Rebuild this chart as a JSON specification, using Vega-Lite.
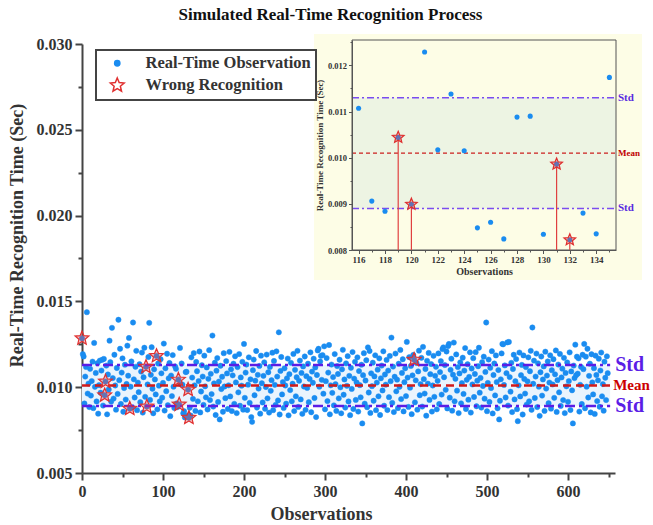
{
"$schema":"https://vega.github.io/schema/vega-lite/v6.json",
"width":533,"height":429,
"autosize":{"type":"none"},
"padding":{"left":82,"top":44,"right":38,"bottom":52},
"background":"white",
"config":{"font":"Liberation Serif","view":{"stroke":null},
 "legend":{"strokeWidth":2},
 "axis":{"grid":false,"domainColor":"#444","domainWidth":2,"tickColor":"#444","tickWidth":2,"labelFont":"Liberation Serif","labelFontWeight":"bold","labelColor":"#333","titleFont":"Liberation Serif","titleFontWeight":"bold","titleColor":"#333","labelFlush":false,"labelOverlap":false}},
"title":{"text":"Simulated Real-Time Recognition Process","font":"Liberation Serif","fontSize":17,"fontWeight":"bold","color":"#111","anchor":"middle","frame":"group","dx":-18,"offset":10},
"datasets":{
"obs":[
{"x":0,"y":0.01285},{"x":1,"y":0.01193},{"x":2,"y":0.01179},{"x":3,"y":0.00905},{"x":4,"y":0.01062},{"x":5,"y":0.01118},{"x":6,"y":0.01437},{"x":7,"y":0.00963},{"x":8,"y":0.01021},{"x":9,"y":0.00884},
{"x":10,"y":0.01107},{"x":11,"y":0.00951},{"x":12,"y":0.01036},{"x":13,"y":0.01149},{"x":14,"y":0.00878},{"x":15,"y":0.01258},{"x":16,"y":0.01002},{"x":17,"y":0.01083},{"x":18,"y":0.00917},{"x":19,"y":0.0114},
{"x":20,"y":0.00846},{"x":21,"y":0.01012},{"x":22,"y":0.01155},{"x":23,"y":0.00968},{"x":24,"y":0.01097},{"x":25,"y":0.0116},{"x":26,"y":0.00893},{"x":27,"y":0.01165},{"x":28,"y":0.00953},{"x":29,"y":0.01033},
{"x":30,"y":0.01126},{"x":31,"y":0.00842},{"x":32,"y":0.01074},{"x":33,"y":0.00987},{"x":34,"y":0.01271},{"x":35,"y":0.01146},{"x":36,"y":0.00916},{"x":37,"y":0.01346},{"x":38,"y":0.01053},{"x":39,"y":0.00934},
{"x":40,"y":0.01189},{"x":41,"y":0.0101},{"x":42,"y":0.00869},{"x":43,"y":0.01112},{"x":44,"y":0.00961},{"x":45,"y":0.01393},{"x":46,"y":0.01041},{"x":47,"y":0.01224},{"x":48,"y":0.00902},{"x":49,"y":0.01085},
{"x":50,"y":0.01168},{"x":51,"y":0.00857},{"x":52,"y":0.00995},{"x":53,"y":0.01131},{"x":54,"y":0.00928},{"x":55,"y":0.01019},{"x":56,"y":0.01242},{"x":57,"y":0.01067},{"x":58,"y":0.01287},{"x":59,"y":0.00875},
{"x":60,"y":0.01003},{"x":61,"y":0.0115},{"x":62,"y":0.00883},{"x":63,"y":0.01377},{"x":64,"y":0.01046},{"x":65,"y":0.0094},{"x":66,"y":0.01119},{"x":67,"y":0.01212},{"x":68,"y":0.00866},{"x":69,"y":0.01027},
{"x":70,"y":0.00971},{"x":71,"y":0.01134},{"x":72,"y":0.00913},{"x":73,"y":0.01091},{"x":74,"y":0.01202},{"x":75,"y":0.00852},{"x":76,"y":0.01058},{"x":77,"y":0.0123},{"x":78,"y":0.00944},{"x":79,"y":0.01119},
{"x":80,"y":0.00887},{"x":81,"y":0.01016},{"x":82,"y":0.01176},{"x":83,"y":0.01375},{"x":84,"y":0.00926},{"x":85,"y":0.01072},{"x":86,"y":0.01233},{"x":87,"y":0.00991},{"x":88,"y":0.00848},{"x":89,"y":0.01104},
{"x":90,"y":0.01045},{"x":91,"y":0.00958},{"x":92,"y":0.01182},{"x":93,"y":0.00871},{"x":94,"y":0.01138},{"x":95,"y":0.01009},{"x":96,"y":0.00917},{"x":97,"y":0.01163},{"x":98,"y":0.01081},{"x":99,"y":0.00939},
{"x":100,"y":0.01025},{"x":101,"y":0.01254},{"x":102,"y":0.00864},{"x":103,"y":0.0111},{"x":104,"y":0.00977},{"x":105,"y":0.01195},{"x":106,"y":0.00895},{"x":107,"y":0.01052},{"x":108,"y":0.01141},{"x":109,"y":0.00831},
{"x":110,"y":0.01068},{"x":111,"y":0.00948},{"x":112,"y":0.01187},{"x":113,"y":0.01003},{"x":114,"y":0.00879},{"x":115,"y":0.01121},{"x":116,"y":0.01107},{"x":117,"y":0.00906},{"x":118,"y":0.00884},{"x":119,"y":0.01044},
{"x":120,"y":0.00899},{"x":121,"y":0.01229},{"x":122,"y":0.01017},{"x":123,"y":0.01138},{"x":124,"y":0.01015},{"x":125,"y":0.00848},{"x":126,"y":0.0086},{"x":127,"y":0.00824},{"x":128,"y":0.01088},{"x":129,"y":0.0109},
{"x":130,"y":0.00834},{"x":131,"y":0.00986},{"x":132,"y":0.00822},{"x":133,"y":0.0088},{"x":134,"y":0.00835},{"x":135,"y":0.01174},{"x":136,"y":0.01056},{"x":137,"y":0.00932},{"x":138,"y":0.01199},{"x":139,"y":0.01011},
{"x":140,"y":0.00862},{"x":141,"y":0.01147},{"x":142,"y":0.01093},{"x":143,"y":0.00918},{"x":144,"y":0.01036},{"x":145,"y":0.01208},{"x":146,"y":0.00853},{"x":147,"y":0.00975},{"x":148,"y":0.01128},{"x":149,"y":0.01062},
{"x":150,"y":0.00897},{"x":151,"y":0.01184},{"x":152,"y":0.01005},{"x":153,"y":0.00941},{"x":154,"y":0.01115},{"x":155,"y":0.0087},{"x":156,"y":0.01049},{"x":157,"y":0.01216},{"x":158,"y":0.00925},{"x":159,"y":0.01078},
{"x":160,"y":0.0096},{"x":161,"y":0.01301},{"x":162,"y":0.00887},{"x":163,"y":0.01022},{"x":164,"y":0.01143},{"x":165,"y":0.00838},{"x":166,"y":0.01096},{"x":167,"y":0.0117},{"x":168,"y":0.00914},{"x":169,"y":0.01033},
{"x":170,"y":0.00812},{"x":171,"y":0.01125},{"x":172,"y":0.00989},{"x":173,"y":0.01061},{"x":174,"y":0.00857},{"x":175,"y":0.01198},{"x":176,"y":0.01004},{"x":177,"y":0.00936},{"x":178,"y":0.01152},{"x":179,"y":0.0108},
{"x":180,"y":0.00873},{"x":181,"y":0.01011},{"x":182,"y":0.01206},{"x":183,"y":0.00946},{"x":184,"y":0.01104},{"x":185,"y":0.00861},{"x":186,"y":0.01069},{"x":187,"y":0.01137},{"x":188,"y":0.00903},{"x":189,"y":0.0118},
{"x":190,"y":0.01028},{"x":191,"y":0.00849},{"x":192,"y":0.01117},{"x":193,"y":0.0097},{"x":194,"y":0.01193},{"x":195,"y":0.00892},{"x":196,"y":0.01057},{"x":197,"y":0.01009},{"x":198,"y":0.01148},{"x":199,"y":0.00869},
{"x":200,"y":0.01252},{"x":201,"y":0.00938},{"x":202,"y":0.01085},{"x":203,"y":0.01132},{"x":204,"y":0.00867},{"x":205,"y":0.01015},{"x":206,"y":0.01174},{"x":207,"y":0.00909},{"x":208,"y":0.01046},{"x":209,"y":0.00826},
{"x":210,"y":0.00798},{"x":211,"y":0.01099},{"x":212,"y":0.01161},{"x":213,"y":0.00953},{"x":214,"y":0.01038},{"x":215,"y":0.01211},{"x":216,"y":0.00881},{"x":217,"y":0.01072},{"x":218,"y":0.00992},{"x":219,"y":0.01124},
{"x":220,"y":0.00846},{"x":221,"y":0.01184},{"x":222,"y":0.01023},{"x":223,"y":0.00911},{"x":224,"y":0.01066},{"x":225,"y":0.01145},{"x":226,"y":0.00874},{"x":227,"y":0.01001},{"x":228,"y":0.0119},{"x":229,"y":0.00935},
{"x":230,"y":0.01087},{"x":231,"y":0.00852},{"x":232,"y":0.01118},{"x":233,"y":0.00979},{"x":234,"y":0.01041},{"x":235,"y":0.01201},{"x":236,"y":0.00866},{"x":237,"y":0.01153},{"x":238,"y":0.01014},{"x":239,"y":0.00897},
{"x":240,"y":0.01209},{"x":241,"y":0.01062},{"x":242,"y":0.00923},{"x":243,"y":0.0132},{"x":244,"y":0.00841},{"x":245,"y":0.01095},{"x":246,"y":0.01176},{"x":247,"y":0.00958},{"x":248,"y":0.0103},{"x":249,"y":0.00879},
{"x":250,"y":0.0111},{"x":251,"y":0.0101},{"x":252,"y":0.00904},{"x":253,"y":0.01052},{"x":254,"y":0.01167},{"x":255,"y":0.00836},{"x":256,"y":0.01076},{"x":257,"y":0.00983},{"x":258,"y":0.01142},{"x":259,"y":0.00918},
{"x":260,"y":0.0102},{"x":261,"y":0.01194},{"x":262,"y":0.00861},{"x":263,"y":0.01101},{"x":264,"y":0.00947},{"x":265,"y":0.01058},{"x":266,"y":0.01212},{"x":267,"y":0.00885},{"x":268,"y":0.01037},{"x":269,"y":0.01155},
{"x":270,"y":0.00929},{"x":271,"y":0.01083},{"x":272,"y":0.00845},{"x":273,"y":0.01121},{"x":274,"y":0.01004},{"x":275,"y":0.01179},{"x":276,"y":0.00868},{"x":277,"y":0.01064},{"x":278,"y":0.00996},{"x":279,"y":0.01137},
{"x":280,"y":0.00913},{"x":281,"y":0.01048},{"x":282,"y":0.01203},{"x":283,"y":0.00854},{"x":284,"y":0.01091},{"x":285,"y":0.01026},{"x":286,"y":0.01166},{"x":287,"y":0.00937},{"x":288,"y":0.01115},{"x":289,"y":0.00826},
{"x":290,"y":0.01071},{"x":291,"y":0.01214},{"x":292,"y":0.01224},{"x":293,"y":0.01003},{"x":294,"y":0.0115},{"x":295,"y":0.01183},{"x":296,"y":0.01043},{"x":297,"y":0.01187},{"x":298,"y":0.00962},{"x":299,"y":0.01238},
{"x":300,"y":0.00871},{"x":301,"y":0.01035},{"x":302,"y":0.0117},{"x":303,"y":0.00919},{"x":304,"y":0.01085},{"x":305,"y":0.01246},{"x":306,"y":0.00842},{"x":307,"y":0.01011},{"x":308,"y":0.01132},{"x":309,"y":0.00967},
{"x":310,"y":0.01059},{"x":311,"y":0.00894},{"x":312,"y":0.01193},{"x":313,"y":0.01018},{"x":314,"y":0.00862},{"x":315,"y":0.01123},{"x":316,"y":0.01077},{"x":317,"y":0.00935},{"x":318,"y":0.0116},{"x":319,"y":0.00999},
{"x":320,"y":0.00848},{"x":321,"y":0.01104},{"x":322,"y":0.01218},{"x":323,"y":0.00956},{"x":324,"y":0.01045},{"x":325,"y":0.00881},{"x":326,"y":0.01139},{"x":327,"y":0.01008},{"x":328,"y":0.01181},{"x":329,"y":0.00917},
{"x":330,"y":0.01066},{"x":331,"y":0.00837},{"x":332,"y":0.01113},{"x":333,"y":0.0099},{"x":334,"y":0.01205},{"x":335,"y":0.00873},{"x":336,"y":0.0105},{"x":337,"y":0.01148},{"x":338,"y":0.00926},{"x":339,"y":0.01028},
{"x":340,"y":0.01174},{"x":341,"y":0.00858},{"x":342,"y":0.01094},{"x":343,"y":0.01012},{"x":344,"y":0.00941},{"x":345,"y":0.01131},{"x":346,"y":0.00789},{"x":347,"y":0.0107},{"x":348,"y":0.01198},{"x":349,"y":0.00904},
{"x":350,"y":0.01039},{"x":351,"y":0.01157},{"x":352,"y":0.00883},{"x":353,"y":0.01232},{"x":354,"y":0.00969},{"x":355,"y":0.01211},{"x":356,"y":0.0085},{"x":357,"y":0.01081},{"x":358,"y":0.01006},{"x":359,"y":0.01143},
{"x":360,"y":0.00921},{"x":361,"y":0.01063},{"x":362,"y":0.01186},{"x":363,"y":0.00866},{"x":364,"y":0.01027},{"x":365,"y":0.01102},{"x":366,"y":0.00947},{"x":367,"y":0.01168},{"x":368,"y":0.00838},{"x":369,"y":0.01052},
{"x":370,"y":0.01126},{"x":371,"y":0.00981},{"x":372,"y":0.01209},{"x":373,"y":0.00892},{"x":374,"y":0.01074},{"x":375,"y":0.01015},{"x":376,"y":0.01159},{"x":377,"y":0.00867},{"x":378,"y":0.01097},{"x":379,"y":0.00942},
{"x":380,"y":0.01182},{"x":381,"y":0.01035},{"x":382,"y":0.01289},{"x":383,"y":0.00909},{"x":384,"y":0.0112},{"x":385,"y":0.00855},{"x":386,"y":0.01061},{"x":387,"y":0.01196},{"x":388,"y":0.00976},{"x":389,"y":0.01044},
{"x":390,"y":0.00878},{"x":391,"y":0.01137},{"x":392,"y":0.01002},{"x":393,"y":0.01217},{"x":394,"y":0.00931},{"x":395,"y":0.01083},{"x":396,"y":0.01163},{"x":397,"y":0.00859},{"x":398,"y":0.01029},{"x":399,"y":0.0111},
{"x":400,"y":0.00948},{"x":401,"y":0.01264},{"x":402,"y":0.01056},{"x":403,"y":0.00885},{"x":404,"y":0.01175},{"x":405,"y":0.00997},{"x":406,"y":0.01124},{"x":407,"y":0.00843},{"x":408,"y":0.01069},{"x":409,"y":0.01188},
{"x":410,"y":0.0116},{"x":411,"y":0.00912},{"x":412,"y":0.0104},{"x":413,"y":0.01141},{"x":414,"y":0.00869},{"x":415,"y":0.01092},{"x":416,"y":0.01213},{"x":417,"y":0.00953},{"x":418,"y":0.01018},{"x":419,"y":0.01171},
{"x":420,"y":0.00887},{"x":421,"y":0.01235},{"x":422,"y":0.01047},{"x":423,"y":0.00963},{"x":424,"y":0.01106},{"x":425,"y":0.00834},{"x":426,"y":0.01154},{"x":427,"y":0.01021},{"x":428,"y":0.012},{"x":429,"y":0.00926},
{"x":430,"y":0.01076},{"x":431,"y":0.01135},{"x":432,"y":0.00858},{"x":433,"y":0.0101},{"x":434,"y":0.01183},{"x":435,"y":0.00944},{"x":436,"y":0.01066},{"x":437,"y":0.01119},{"x":438,"y":0.00871},{"x":439,"y":0.01037},
{"x":440,"y":0.01197},{"x":441,"y":0.00902},{"x":442,"y":0.01088},{"x":443,"y":0.01152},{"x":444,"y":0.00957},{"x":445,"y":0.01222},{"x":446,"y":0.01232},{"x":447,"y":0.01058},{"x":448,"y":0.01129},{"x":449,"y":0.00985},
{"x":450,"y":0.01208},{"x":451,"y":0.00876},{"x":452,"y":0.0124},{"x":453,"y":0.01252},{"x":454,"y":0.00939},{"x":455,"y":0.01101},{"x":456,"y":0.01166},{"x":457,"y":0.00863},{"x":458,"y":0.01073},{"x":459,"y":0.0126},
{"x":460,"y":0.00918},{"x":461,"y":0.01049},{"x":462,"y":0.01191},{"x":463,"y":0.0098},{"x":464,"y":0.01117},{"x":465,"y":0.00849},{"x":466,"y":0.0108},{"x":467,"y":0.01145},{"x":468,"y":0.00906},{"x":469,"y":0.01024},
{"x":470,"y":0.01172},{"x":471,"y":0.00961},{"x":472,"y":0.01097},{"x":473,"y":0.01228},{"x":474,"y":0.00873},{"x":475,"y":0.01043},{"x":476,"y":0.01134},{"x":477,"y":0.00927},{"x":478,"y":0.0106},{"x":479,"y":0.01203},
{"x":480,"y":0.00852},{"x":481,"y":0.01109},{"x":482,"y":0.01016},{"x":483,"y":0.01169},{"x":484,"y":0.00943},{"x":485,"y":0.01077},{"x":486,"y":0.01204},{"x":487,"y":0.00889},{"x":488,"y":0.01038},{"x":489,"y":0.01122},
{"x":490,"y":0.0123},{"x":491,"y":0.00968},{"x":492,"y":0.01054},{"x":493,"y":0.00881},{"x":494,"y":0.01146},{"x":495,"y":0.01007},{"x":496,"y":0.01178},{"x":497,"y":0.00933},{"x":498,"y":0.01089},{"x":499,"y":0.01377},
{"x":500,"y":0.0086},{"x":501,"y":0.01025},{"x":502,"y":0.01161},{"x":503,"y":0.00914},{"x":504,"y":0.01113},{"x":505,"y":0.00995},{"x":506,"y":0.0121},{"x":507,"y":0.00847},{"x":508,"y":0.01071},{"x":509,"y":0.01138},
{"x":510,"y":0.00952},{"x":511,"y":0.01185},{"x":512,"y":0.0103},{"x":513,"y":0.00877},{"x":514,"y":0.011},{"x":515,"y":0.00812},{"x":516,"y":0.00921},{"x":517,"y":0.01046},{"x":518,"y":0.01197},{"x":519,"y":0.01252},
{"x":520,"y":0.0125},{"x":521,"y":0.01013},{"x":522,"y":0.01127},{"x":523,"y":0.0094},{"x":524,"y":0.01082},{"x":525,"y":0.01261},{"x":526,"y":0.00893},{"x":527,"y":0.01264},{"x":528,"y":0.01059},{"x":529,"y":0.00974},
{"x":530,"y":0.01142},{"x":531,"y":0.00855},{"x":532,"y":0.01106},{"x":533,"y":0.01189},{"x":534,"y":0.00929},{"x":535,"y":0.01035},{"x":536,"y":0.01164},{"x":537,"y":0.00872},{"x":538,"y":0.00802},{"x":539,"y":0.01011},
{"x":540,"y":0.01202},{"x":541,"y":0.00946},{"x":542,"y":0.0107},{"x":543,"y":0.0113},{"x":544,"y":0.00841},{"x":545,"y":0.01185},{"x":546,"y":0.01048},{"x":547,"y":0.00963},{"x":548,"y":0.01117},{"x":549,"y":0.00899},
{"x":550,"y":0.01034},{"x":551,"y":0.01174},{"x":552,"y":0.00918},{"x":553,"y":0.01093},{"x":554,"y":0.01212},{"x":555,"y":0.00868},{"x":556,"y":0.01348},{"x":557,"y":0.0102},{"x":558,"y":0.01155},{"x":559,"y":0.00937},
{"x":560,"y":0.01062},{"x":561,"y":0.01196},{"x":562,"y":0.00884},{"x":563,"y":0.01139},{"x":564,"y":0.01003},{"x":565,"y":0.00833},{"x":566,"y":0.01087},{"x":567,"y":0.01179},{"x":568,"y":0.00951},{"x":569,"y":0.01045},
{"x":570,"y":0.01121},{"x":571,"y":0.00862},{"x":572,"y":0.01207},{"x":573,"y":0.00992},{"x":574,"y":0.01068},{"x":575,"y":0.0115},{"x":576,"y":0.00907},{"x":577,"y":0.01027},{"x":578,"y":0.01186},{"x":579,"y":0.00875},
{"x":580,"y":0.01099},{"x":581,"y":0.01016},{"x":582,"y":0.01163},{"x":583,"y":0.00938},{"x":584,"y":0.01075},{"x":585,"y":0.01214},{"x":586,"y":0.00856},{"x":587,"y":0.01041},{"x":588,"y":0.01132},{"x":589,"y":0.0097},
{"x":590,"y":0.01194},{"x":591,"y":0.00891},{"x":592,"y":0.01057},{"x":593,"y":0.01108},{"x":594,"y":0.00925},{"x":595,"y":0.01171},{"x":596,"y":0.00849},{"x":597,"y":0.01083},{"x":598,"y":0.01005},{"x":599,"y":0.01144},
{"x":600,"y":0.00915},{"x":601,"y":0.01036},{"x":602,"y":0.01203},{"x":603,"y":0.00867},{"x":604,"y":0.01092},{"x":605,"y":0.00982},{"x":606,"y":0.00789},{"x":607,"y":0.01126},{"x":608,"y":0.01053},{"x":609,"y":0.01248},
{"x":610,"y":0.0107},{"x":611,"y":0.01178},{"x":612,"y":0.01079},{"x":613,"y":0.01168},{"x":614,"y":0.00858},{"x":615,"y":0.01014},{"x":616,"y":0.01119},{"x":617,"y":0.00902},{"x":618,"y":0.01189},{"x":619,"y":0.01105},
{"x":620,"y":0.01252},{"x":621,"y":0.00877},{"x":622,"y":0.01178},{"x":623,"y":0.01003},{"x":624,"y":0.01224},{"x":625,"y":0.0094},{"x":626,"y":0.01066},{"x":627,"y":0.01137},{"x":628,"y":0.00853},{"x":629,"y":0.01192},
{"x":630,"y":0.01028},{"x":631,"y":0.00958},{"x":632,"y":0.01111},{"x":633,"y":0.00844},{"x":634,"y":0.01184},{"x":635,"y":0.01071},{"x":636,"y":0.00919},{"x":637,"y":0.0104},{"x":638,"y":0.01166},{"x":639,"y":0.00886},
{"x":640,"y":0.01097},{"x":641,"y":0.01202},{"x":642,"y":0.00947},{"x":643,"y":0.01018},{"x":644,"y":0.00863},{"x":645,"y":0.01149},{"x":646,"y":0.01055},{"x":647,"y":0.00925},{"x":648,"y":0.0118},{"x":649,"y":0.01082}
],
"wrong":[
{"x":0,"y":0.01285},{"x":28,"y":0.00953},{"x":29,"y":0.01033},{"x":59,"y":0.00875},{"x":79,"y":0.01119},{"x":80,"y":0.00887},{"x":92,"y":0.01182},{"x":119,"y":0.01044},{"x":120,"y":0.00899},{"x":131,"y":0.00986},{"x":132,"y":0.00822},{"x":410,"y":0.0116}
]
},
"layer":[
{
"encoding":{
 "x":{"field":"x","type":"quantitative","scale":{"domain":[0,658],"nice":false,"zero":false},
  "axis":{"orient":"bottom","values":[0,50,100,150,200,250,300,350,400,450,500,550,600,650],"labelExpr":"datum.value % 100 === 0 ? datum.label : ''","tickSize":{"condition":{"test":"datum.value % 100 !== 0","value":4},"value":7},"labelFontSize":16,"labelPadding":3,"title":"Observations","titleFontSize":18,"titleX":239,"titleY":41,"titleBaseline":"middle","titleAlign":"center"}},
 "y":{"field":"y","type":"quantitative","scale":{"domain":[0.005,0.03],"nice":false,"zero":false},
  "axis":{"orient":"left","values":[0.005,0.0075,0.01,0.0125,0.015,0.0175,0.02,0.0225,0.025,0.0275,0.03],"labelExpr":"round(datum.value*10000) % 50 === 0 ? format(datum.value,'.3f') : ''","tickSize":{"condition":{"test":"round(datum.value*10000) % 50 !== 0","value":4},"value":7},"labelFontSize":16,"labelPadding":3,"title":"Real-Time Recognition Time (Sec)","titleFontSize":18,"titleX":-65,"titleY":191,"titleAngle":-90,"titleBaseline":"middle","titleAlign":"center"}}
},
"layer":[
 {"data":{"values":[{"x":0,"x2":652,"y":0.0089,"y2":0.0113}]},"mark":{"type":"rect","color":"#eaf4fd"},"encoding":{"x2":{"field":"x2"},"y2":{"field":"y2"}}},
 {"data":{"name":"obs"},"mark":{"type":"point","filled":true,"opacity":1,"strokeWidth":0.5},
  "encoding":{
   "shape":{"datum":"Real-Time Observation","scale":{"domain":["Real-Time Observation","Wrong Recognition"],"range":["circle","M0,-1L0.265,-0.364L0.951,-0.309L0.428,0.139L0.588,0.809L0,0.45L-0.588,0.809L-0.428,0.139L-0.951,-0.309L-0.265,-0.364Z"]},
    "legend":{"orient":"none","legendX":14,"legendY":6,"title":null,"labelFont":"Liberation Serif","labelFontSize":16.5,"labelFontWeight":"bold","labelColor":"#333","labelLimit":400,"padding":5,"rowPadding":3,"symbolOffset":8,"labelOffset":20,"strokeColor":"#444","fillColor":"#ffffff","symbolStrokeWidth":1.5,"symbolOpacity":1}},
   "fill":{"datum":"Real-Time Observation","scale":{"domain":["Real-Time Observation","Wrong Recognition"],"range":["#1a8cf0","#ffffff"]},
    "legend":{"orient":"none","legendX":14,"legendY":6,"title":null,"labelFont":"Liberation Serif","labelFontSize":16.5,"labelFontWeight":"bold","labelColor":"#333","labelLimit":400,"padding":5,"rowPadding":3,"symbolOffset":8,"labelOffset":20,"strokeColor":"#444","fillColor":"#ffffff","symbolStrokeWidth":1.5,"symbolOpacity":1}},
   "stroke":{"datum":"Real-Time Observation","scale":{"domain":["Real-Time Observation","Wrong Recognition"],"range":["#1a8cf0","#e03030"]},
    "legend":{"orient":"none","legendX":14,"legendY":6,"title":null,"labelFont":"Liberation Serif","labelFontSize":16.5,"labelFontWeight":"bold","labelColor":"#333","labelLimit":400,"padding":5,"rowPadding":3,"symbolOffset":8,"labelOffset":20,"strokeColor":"#444","fillColor":"#ffffff","symbolStrokeWidth":1.5,"symbolOpacity":1}},
   "size":{"datum":"Real-Time Observation","scale":{"domain":["Real-Time Observation","Wrong Recognition"],"range":[28,210]},
    "legend":{"orient":"none","legendX":14,"legendY":6,"title":null,"labelFont":"Liberation Serif","labelFontSize":16.5,"labelFontWeight":"bold","labelColor":"#333","labelLimit":400,"padding":5,"rowPadding":3,"symbolOffset":8,"labelOffset":20,"strokeColor":"#444","fillColor":"#ffffff","symbolStrokeWidth":1.5,"symbolOpacity":1}}
  }},
 {"data":{"values":[{"x":0,"x2":652,"y":0.0113},{"x":0,"x2":652,"y":0.0089}]},"mark":{"type":"rule","color":"#5b1de6","strokeWidth":2.5,"strokeDash":[10,4,3,4]},"encoding":{"x2":{"field":"x2"}}},
 {"data":{"values":[{"x":0,"x2":652,"y":0.0101}]},"mark":{"type":"rule","color":"#d11a1a","strokeWidth":2.5,"strokeDash":[8,5]},"encoding":{"x2":{"field":"x2"}}},
 {"data":{"name":"wrong"},"mark":{"type":"point","filled":false,"fill":"#ee4444","fillOpacity":0.35,"strokeWidth":1.2,"opacity":1},
  "encoding":{"shape":{"datum":"Wrong Recognition"},"stroke":{"datum":"Wrong Recognition"},"size":{"datum":"Wrong Recognition"}}},
 {"data":{"values":[{"x":652,"y":0.0113,"label":"Std"},{"x":652,"y":0.0089,"label":"Std"}]},"mark":{"type":"text","align":"left","baseline":"middle","dx":5,"font":"Liberation Serif","fontSize":20,"fontWeight":"bold","color":"#5b1de6"},"encoding":{"text":{"field":"label"}}},
 {"data":{"values":[{"x":652,"y":0.0101,"label":"Mean"}]},"mark":{"type":"text","align":"left","baseline":"middle","dx":3,"font":"Liberation Serif","fontSize":15,"fontWeight":"bold","color":"#cc0000"},"encoding":{"text":{"field":"label"}}}
]
},
{
"encoding":{
 "x":{"field":"x","type":"quantitative","scale":{"domain":[115.5,135.5],"range":[270,534],"nice":false,"zero":false},
  "axis":{"orient":"bottom","offset":-223,"zindex":1,"values":[116,117,118,119,120,121,122,123,124,125,126,127,128,129,130,131,132,133,134,135],"labelExpr":"datum.value % 2 === 0 ? datum.label : ''","tickSize":{"condition":{"test":"datum.value % 2 !== 0","value":2},"value":3.5},"domainColor":"#555","domainWidth":1,"tickColor":"#555","tickWidth":1,"labelFontSize":9,"labelPadding":2,"title":"Observations","titleFontSize":10,"titlePadding":2}},
 "y":{"field":"y","type":"quantitative","scale":{"domain":[0.008,0.01255],"range":[206,-4],"nice":false,"zero":false},
  "axis":{"orient":"left","offset":-270,"zindex":1,"values":[0.008,0.0085,0.009,0.0095,0.01,0.0105,0.011,0.0115,0.012,0.0125],"labelExpr":"round(datum.value*10000) % 10 === 0 ? format(datum.value,'.3f') : ''","tickSize":{"condition":{"test":"round(datum.value*10000) % 10 !== 0","value":2},"value":3.5},"domainColor":"#555","domainWidth":1,"tickColor":"#555","tickWidth":1,"labelFontSize":8.5,"labelPadding":2,"title":"Real-Time Recognition Time (Sec)","titleFontSize":9,"titlePadding":3}}
},
"layer":[
 {"data":{"values":[{"x":112.62,"x2":137.47,"y":0.00735,"y2":0.01268}]},"mark":{"type":"rect","color":"#fdfde6"},"encoding":{"x2":{"field":"x2"},"y2":{"field":"y2"}}},
 {"data":{"values":[{"x":115.5,"x2":135.5,"y":0.0089,"y2":0.0113}]},"mark":{"type":"rect","color":"#edf4e3"},"encoding":{"x2":{"field":"x2"},"y2":{"field":"y2"}}},
 {"data":{"values":[{"x":115.5,"x2":135.5,"y":0.008,"y2":0.01255}]},"mark":{"type":"rect","fillOpacity":0,"stroke":"#555","strokeWidth":1},"encoding":{"x2":{"field":"x2"},"y2":{"field":"y2"}}},
 {"data":{"values":[{"x":115.5,"x2":135.5,"y":0.0113},{"x":115.5,"x2":135.5,"y":0.0089}]},"mark":{"type":"rule","color":"#7a4cf0","strokeWidth":1.5,"strokeDash":[7,3,2,3]},"encoding":{"x2":{"field":"x2"}}},
 {"data":{"values":[{"x":115.5,"x2":135.5,"y":0.0101}]},"mark":{"type":"rule","color":"#cc1f1f","strokeWidth":1.2,"strokeDash":[4,3]},"encoding":{"x2":{"field":"x2"}}},
 {"data":{"name":"wrong"},"transform":[{"filter":{"field":"x","range":[116,135]}}],"mark":{"type":"rule","color":"#e04040","strokeWidth":1.2},"encoding":{"y2":{"datum":0.008}}},
 {"data":{"name":"obs"},"transform":[{"filter":{"field":"x","range":[116,135]}}],"mark":{"type":"point","filled":true,"color":"#1a8cf0","opacity":1,"size":26}},
 {"data":{"name":"wrong"},"transform":[{"filter":{"field":"x","range":[116,135]}}],"mark":{"type":"point","filled":true,"fill":"#ee4444","fillOpacity":0.35,"stroke":"#de2f2f","strokeWidth":1.2,"size":150,"shape":"M0,-1L0.265,-0.364L0.951,-0.309L0.428,0.139L0.588,0.809L0,0.45L-0.588,0.809L-0.428,0.139L-0.951,-0.309L-0.265,-0.364Z"}},
 {"data":{"values":[{"x":135.5,"y":0.0113,"label":"Std"},{"x":135.5,"y":0.0089,"label":"Std"}]},"mark":{"type":"text","align":"left","baseline":"middle","dx":2,"font":"Liberation Serif","fontSize":11,"fontWeight":"bold","color":"#5a2be0"},"encoding":{"text":{"field":"label"}}},
 {"data":{"values":[{"x":135.5,"y":0.0101,"label":"Mean"}]},"mark":{"type":"text","align":"left","baseline":"middle","dx":2,"font":"Liberation Serif","fontSize":9,"fontWeight":"bold","color":"#c00000"},"encoding":{"text":{"field":"label"}}}
]
}
],
"resolve":{"scale":{"x":"independent","y":"independent"}}
}
